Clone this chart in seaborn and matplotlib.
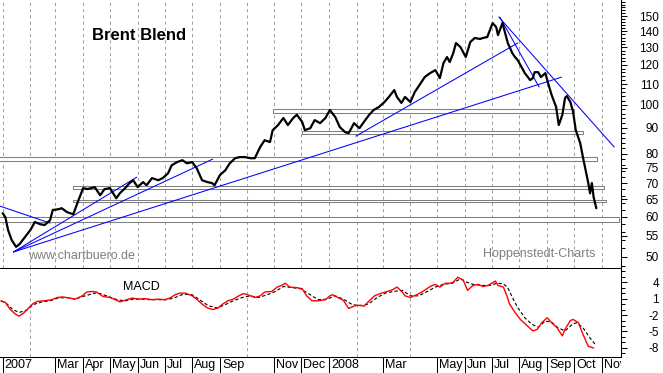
import pandas as pd
import matplotlib
matplotlib.use('Agg')
import matplotlib.pyplot as plt
import matplotlib.ticker as mticker
from matplotlib import transforms
from matplotlib.patches import Rectangle
import seaborn as sns

# days are counted from 1 Jan 2007
price_day = [0, 3, 6, 10, 15, 19, 25, 31, 36, 42, 47, 53, 56, 62, 66, 72, 79, 84, 90, 95,
             103, 109, 114, 120, 127, 131, 137, 142, 146, 151, 157, 161, 167, 174, 179, 185, 189, 195, 201, 206,
             212, 217, 223, 229, 234, 237, 243, 249, 254, 260, 265, 271, 277, 282, 288, 293, 299, 302, 308, 314,
             319, 325, 329, 335, 338, 344, 349, 355, 361, 366, 372, 377, 383, 387, 393, 399, 404, 410, 415, 421,
             427, 432, 438, 441, 446, 450, 456, 461, 467, 472, 478, 484, 487, 489, 493, 497, 500, 504, 507, 512,
             515, 518, 523, 528, 534, 537, 542, 545, 548, 552, 554, 559, 562, 565, 570, 573, 576, 581, 584, 590,
             593, 595, 599, 602, 607, 610, 614, 619, 622, 626, 629, 631, 635, 638, 641, 646, 649, 652, 655, 657,
             659, 661, 664]
price = [61.0, 59.9, 56.5, 54.0, 52.3, 53.0, 54.7, 56.5, 58.6, 58.0, 57.8, 59.1, 61.9, 62.1, 62.4, 61.3, 60.7, 64.2, 68.4, 68.1,
         68.7, 66.2, 68.1, 68.4, 65.3, 66.8, 68.4, 70.0, 70.9, 68.7, 70.3, 69.3, 71.6, 70.9, 71.6, 73.2, 75.9, 77.0, 77.7, 76.6,
         77.0, 74.9, 70.9, 70.3, 70.0, 69.3, 72.6, 74.2, 76.6, 78.4, 78.8, 78.8, 78.4, 78.4, 82.5, 85.1, 84.4, 89.1, 91.2, 94.2,
         91.2, 94.2, 95.6, 92.5, 89.1, 89.9, 93.3, 92.0, 94.2, 97.7, 94.6, 90.4, 88.3, 87.9, 92.0, 89.9, 92.5, 95.6, 97.7, 99.1,
         101.3, 103.7, 107.0, 103.7, 100.9, 103.7, 101.3, 106.1, 110.0, 113.5, 115.6, 117.2, 114.6, 113.0, 121.0, 124.4, 121.6, 126.7, 132.6, 130.2,
         127.3, 124.4, 133.2, 135.7, 135.1, 135.7, 136.3, 140.7, 145.3, 142.6, 137.5, 145.3, 138.8, 132.6, 126.7, 124.4, 122.7, 118.3, 115.6, 112.0,
         113.0, 116.1, 116.1, 113.5, 115.6, 110.5, 104.6, 99.1, 91.2, 95.6, 103.2, 104.1, 101.3, 96.9, 89.1, 84.0, 78.8, 74.2, 70.0, 66.8,
         70.0, 65.6, 62.4]

macd_day = [-2, 3, 8, 14, 18, 23, 28, 34, 39, 47, 55, 61, 67, 75, 81, 89, 94, 100, 105, 112,
            120, 126, 131, 137, 145, 151, 159, 167, 174, 181, 187, 193, 198, 204, 212, 217, 223, 229, 235, 241,
            246, 252, 258, 263, 269, 274, 282, 288, 293, 301, 307, 312, 316, 321, 329, 335, 340, 346, 353, 361,
            366, 369, 375, 381, 387, 394, 400, 404, 410, 416, 422, 430, 436, 441, 447, 450, 456, 463, 470, 478,
            484, 489, 495, 500, 504, 509, 515, 520, 526, 532, 537, 543, 551, 554, 560, 564, 567, 573, 579, 587,
            593, 598, 603, 609, 614, 620, 626, 629, 635, 638, 644, 649, 655, 661]
macd = [0.6, 0.3, -0.9, -1.8, -2.2, -1.7, -0.9, 0.1, 0.5, 0.6, 0.8, 1.2, 1.3, 1.1, 0.9, 1.5, 2.2, 2.3, 2.2, 1.4,
        1.2, 0.8, 0.4, 0.7, 1.1, 0.9, 1.0, 0.8, 0.9, 0.8, 1.1, 1.7, 2.0, 2.0, 1.5, 0.9, 0.0, -0.7, -1.0, -0.7,
        0.0, 0.6, 0.9, 1.4, 1.9, 1.7, 1.2, 1.5, 2.2, 2.3, 3.1, 3.4, 3.8, 3.1, 3.0, 2.8, 1.5, 0.6, 0.6, 0.8,
        1.5, 1.7, 1.2, 0.7, -0.8, -0.3, -0.2, -0.4, 0.6, 1.5, 1.9, 2.3, 2.6, 3.1, 2.2, 1.5, 1.2, 1.7, 2.3, 3.2,
        3.6, 3.1, 3.8, 3.8, 4.0, 4.9, 4.4, 2.5, 3.4, 3.6, 3.2, 3.4, 4.2, 3.4, 3.1, 1.5, 0.0, -1.5, -2.8, -4.0,
        -4.9, -4.6, -3.4, -2.5, -3.4, -4.3, -5.8, -4.6, -3.0, -2.8, -3.4, -5.5, -7.7, -8.0]

signal_day = [-2, 5, 12, 19, 27, 34, 44, 53, 62, 72, 81, 90, 103, 109, 118, 128, 137, 146, 156, 165,
              174, 184, 193, 202, 212, 221, 230, 240, 249, 258, 268, 277, 286, 296, 305, 314, 324, 333, 342, 353,
              363, 372, 381, 391, 400, 409, 419, 428, 437, 447, 456, 465, 475, 484, 493, 503, 512, 519, 526, 536,
              545, 553, 560, 565, 571, 576, 584, 592, 599, 607, 614, 621, 629, 637, 642, 649, 657, 663]
signal = [0.6, 0.0, -1.1, -1.5, -1.1, -0.1, 0.4, 0.6, 1.1, 1.2, 0.9, 1.4, 2.0, 1.9, 1.4, 0.8, 0.6, 0.9, 0.9, 0.8,
          0.8, 0.8, 1.2, 1.8, 1.7, 0.7, -0.3, -0.7, -0.1, 0.6, 1.2, 1.5, 1.2, 1.7, 2.3, 3.2, 3.0, 2.8, 1.9, 0.8,
          0.9, 1.5, 0.9, -0.1, -0.3, 0.0, 1.2, 2.0, 2.3, 2.5, 1.5, 1.5, 2.3, 3.1, 3.6, 3.8, 4.6, 4.0, 3.6, 3.4,
          3.4, 3.8, 3.7, 3.0, 0.9, -0.6, -2.5, -3.7, -4.2, -3.1, -3.3, -4.3, -4.9, -3.7, -3.4, -4.3, -6.2, -7.4]

# horizontal support / resistance boxes
band_start = [302, 335, -5, 79, 79, -5]
band_end = [639, 649, 665, 673, 675, 689]
band_low = [96.4, 87.5, 77.3, 68.1, 64.2, 58.6]
band_high = [98.2, 88.6, 78.8, 69.0, 64.7, 59.9]

# blue trend lines
trend_day0 = [-3, 12, 12, 12, 395, 555, 556]
trend_p0 = [63.0, 51.1, 51.1, 51.1, 86.7, 149.3, 149.3]
trend_day1 = [53, 150, 235, 625, 576, 684, 600]
trend_p1 = [58.3, 71.9, 78.1, 113.5, 132.6, 82.5, 108.5]

price_ticks = [50, 55, 60, 65, 70, 75, 80, 90, 100, 110, 120, 130, 140, 150]
macd_ticks = [4, 1, -2, -5, -8]
label_month = ['2007-01', '2007-03', '2007-04', '2007-05', '2007-06', '2007-07', '2007-08', '2007-09',
               '2007-11', '2007-12', '2008-01', '2008-03', '2008-05', '2008-06', '2008-07', '2008-08',
               '2008-09', '2008-10', '2008-11']
label_text = ['2007', 'Mar', 'Apr', 'May', 'Jun', 'Jul', 'Aug', 'Sep', 'Nov', 'Dec', '2008', 'Mar',
              'May', 'Jun', 'Jul', 'Aug', 'Sep', 'Oct', 'Nov']

sns.set_style('white')
plt.rcParams['font.family'] = ['Liberation Sans', 'DejaVu Sans']
plt.rcParams['text.color'] = 'black'

start = pd.Timestamp('2007-01-01')
month_day = list((pd.date_range('2007-01-01', '2008-11-01', freq='MS') - start).days)
label_day = list((pd.to_datetime(label_month) - start).days)
xlim = (-3, 691.6)

W, H = 663, 373
fig = plt.figure(figsize=(W / 100, H / 100), dpi=100)
ax = fig.add_axes([0, 1 - 268 / H, 621 / W, 268 / H])
ax2 = fig.add_axes([0, 1 - 356.5 / H, 621 / W, 88.5 / H])

grid_kw = dict(which='minor', axis='x', color='#a0a0a0', linestyle=(0, (3, 3)), linewidth=0.75)

# kurs
ax.set_yscale('log')
for s, e, lo, hi in zip(band_start, band_end, band_low, band_high):
    ax.add_patch(Rectangle((s, lo), e - s, hi - lo, facecolor='white', edgecolor='#808080',
                           linewidth=0.75, zorder=2))
for d0, p0, d1, p1 in zip(trend_day0, trend_p0, trend_day1, trend_p1):
    ax.plot([d0, d1], [p0, p1], color='#0000ff', linewidth=0.75, zorder=3)
sns.lineplot(x=price_day, y=price, ax=ax, color='black', linewidth=1.6, zorder=4)
ax.set_xlim(*xlim)
ax.set_ylim(47.5, 161.4)
ax.set_xlabel('')
ax.set_ylabel('')

ax.set_xticks([])
ax.set_xticks(month_day, minor=True)
ax.tick_params(axis='x', which='both', length=0, labelbottom=False)
ax.grid(**grid_kw)
ax.set_axisbelow(True)

ax.yaxis.tick_right()
ax.yaxis.set_major_locator(mticker.FixedLocator(price_ticks))
ax.yaxis.set_major_formatter(mticker.FuncFormatter(lambda v, p: f'{v:g}'))
ax.yaxis.set_minor_locator(mticker.FixedLocator([v for v in range(48, 162, 2) if v not in price_ticks]))
ax.yaxis.set_minor_formatter(mticker.NullFormatter())
ax.tick_params(axis='y', which='major', direction='out', length=4.5, width=0.75, pad=22.9,
               labelsize=8.5, colors='black')
ax.tick_params(axis='y', which='minor', direction='out', length=3, width=0.75, colors='black')
for lbl in ax.get_yticklabels():
    lbl.set_horizontalalignment('right')
for side in ['left', 'top', 'bottom']:
    ax.spines[side].set_visible(False)
ax.spines['right'].set_color('black')
ax.spines['right'].set_linewidth(0.75)

# MACD
sns.lineplot(x=signal_day, y=signal, ax=ax2, color='black', linewidth=0.8, linestyle=(0, (3, 2)))
sns.lineplot(x=macd_day, y=macd, ax=ax2, color='#ff0000', linewidth=1.0)
ax2.set_xlim(*xlim)
ax2.set_ylim(-9.56, 6.58)
ax2.set_xlabel('')
ax2.set_ylabel('')

ax2.set_xticks(label_day)
ax2.set_xticks(month_day, minor=True)
ax2.tick_params(axis='x', which='major', bottom=True, direction='out', length=11.5, width=0.75,
                colors='black', labelbottom=False)
ax2.tick_params(axis='x', which='minor', length=0)
ax2.grid(**grid_kw)
ax2.set_axisbelow(True)

ax2.yaxis.tick_right()
ax2.yaxis.set_major_locator(mticker.FixedLocator(macd_ticks))
ax2.yaxis.set_major_formatter(mticker.FuncFormatter(lambda v, p: f'{v:g}'))
ax2.yaxis.set_minor_locator(mticker.MultipleLocator(1))
ax2.tick_params(axis='y', which='major', direction='out', length=4.5, width=0.75, pad=22.9,
                labelsize=8.5, colors='black')
ax2.tick_params(axis='y', which='minor', direction='out', length=3, width=0.75, colors='black')
for lbl in ax2.get_yticklabels():
    lbl.set_horizontalalignment('right')
ax2.spines['left'].set_visible(False)
for side in ['top', 'bottom', 'right']:
    ax2.spines[side].set_color('black')
    ax2.spines[side].set_linewidth(0.75)

# monatsnamen unter der achse, rechts vom strich
clip = transforms.TransformedBbox(transforms.Bbox.from_extents(0, 0, 621 / W, 1), fig.transFigure)
lab_trans = transforms.offset_copy(ax2.get_xaxis_transform(), fig=fig, x=2, y=-2.5, units='dots')
for d, t in zip(label_day, label_text):
    txt = ax2.text(d, 0, t, transform=lab_trans, ha='left', va='top', fontsize=9, color='black')
    txt.set_clip_box(clip)
    txt.set_clip_on(True)

# texte
fig.text(92 / W, 1 - 36 / H, 'Brent Blend', fontsize=12, fontweight='bold', ha='left', va='center', color='black')
fig.text(28 / W, 1 - 256 / H, 'www.chartbuero.de', fontsize=9, color='#808080', ha='left', va='center')
fig.text(595 / W, 1 - 254 / H, 'Hoppenstedt-Charts', fontsize=9, color='#808080', ha='right', va='center')
fig.text(123 / W, 1 - 287 / H, 'MACD', fontsize=9, color='black', ha='left', va='center')

fig.savefig('out.png', dpi=100)
